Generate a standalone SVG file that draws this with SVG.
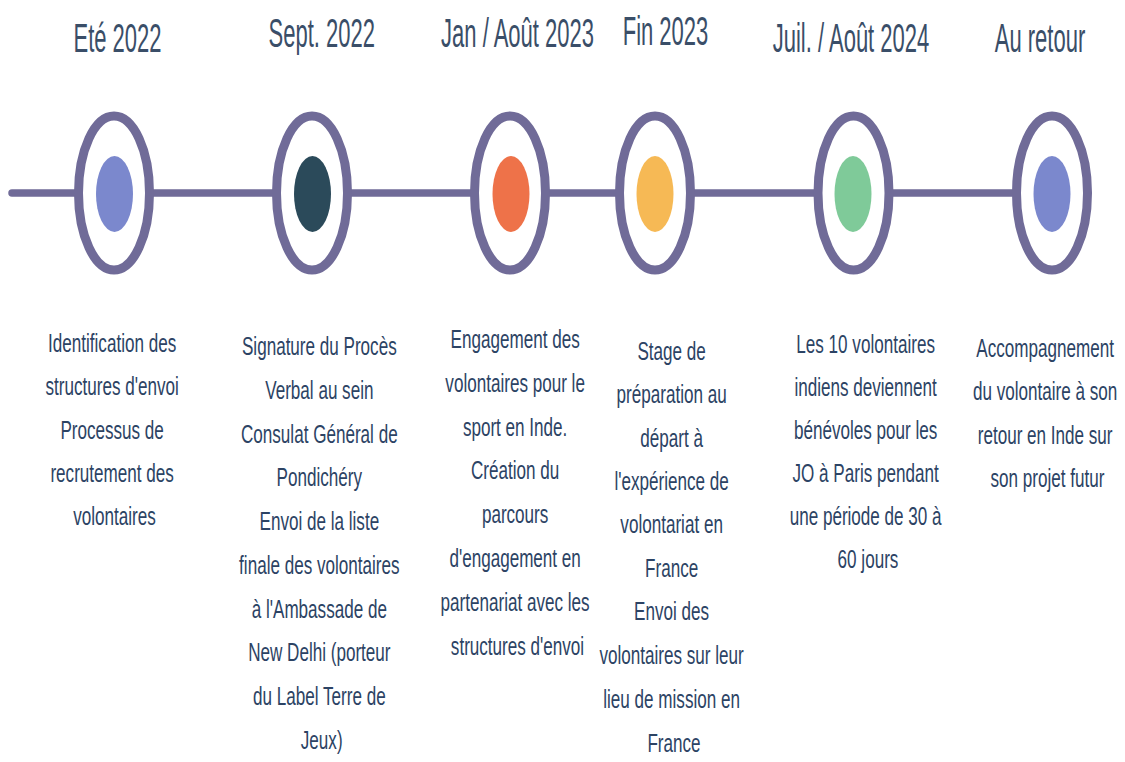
<svg xmlns="http://www.w3.org/2000/svg" width="1125" height="762" viewBox="0 0 1125 762">
<style>
.ring{fill:#ffffff;stroke:#706b98;stroke-width:9}
.title{font-family:"Liberation Sans",Arial,sans-serif;font-size:40px;fill:#3a4e68;text-anchor:middle}
.body{font-family:"Liberation Sans",Arial,sans-serif;font-size:26.5px;fill:#2c4364;text-anchor:middle}
</style>
<rect width="1125" height="762" fill="#ffffff"/>
<g id="connectors">
<line x1="12" y1="193" x2="1012" y2="193" stroke="#706b98" stroke-width="7.5" stroke-linecap="round"/>
</g>
<g id="node1">
<text class="title" transform="translate(117.5,52) scale(0.55,1)">Eté 2022</text>
<ellipse class="ring" cx="114" cy="193" rx="35.5" ry="77"/>
<ellipse cx="114.5" cy="194" rx="18.5" ry="38" fill="#7b88cd"/>
<text class="body" transform="translate(114.5,0) scale(0.645,1)">
<tspan x="0" y="352">Identification des</tspan>
<tspan x="0" y="395.5">structures d'envoi</tspan>
<tspan x="0" y="439">Processus de</tspan>
<tspan x="0" y="482">recrutement des</tspan>
<tspan x="0" y="525">volontaires</tspan>
</text>
</g>
<g id="node2">
<text class="title" transform="translate(321.7,47) scale(0.55,1)">Sept. 2022</text>
<ellipse class="ring" cx="312" cy="193" rx="35.5" ry="77"/>
<ellipse cx="312.5" cy="194" rx="18.5" ry="38" fill="#2b4a5a"/>
<text class="body" transform="translate(321.7,0) scale(0.645,1)">
<tspan x="0" y="355">Signature du Procès</tspan>
<tspan x="0" y="399">Verbal au sein</tspan>
<tspan x="0" y="443">Consulat Général de</tspan>
<tspan x="0" y="486.5">Pondichéry</tspan>
<tspan x="0" y="530">Envoi de la liste</tspan>
<tspan x="0" y="574">finale des volontaires</tspan>
<tspan x="0" y="618">à l'Ambassade de</tspan>
<tspan x="0" y="661.5">New Delhi (porteur</tspan>
<tspan x="0" y="705">du Label Terre de</tspan>
<tspan x="0" y="749">Jeux)</tspan>
</text>
</g>
<g id="node3">
<text class="title" transform="translate(517.5,47) scale(0.55,1)">Jan / Août 2023</text>
<ellipse class="ring" cx="510" cy="193" rx="35.5" ry="77"/>
<ellipse cx="511" cy="194" rx="18.5" ry="38" fill="#ee7249"/>
<text class="body" transform="translate(517.5,0) scale(0.645,1)">
<tspan x="0" y="348">Engagement des</tspan>
<tspan x="0" y="392">volontaires pour le</tspan>
<tspan x="0" y="436">sport en Inde.</tspan>
<tspan x="0" y="479.5">Création du</tspan>
<tspan x="0" y="523">parcours</tspan>
<tspan x="0" y="567">d'engagement en</tspan>
<tspan x="0" y="611">partenariat avec les</tspan>
<tspan x="0" y="655">structures d'envoi</tspan>
</text>
</g>
<g id="node4">
<text class="title" transform="translate(665.5,45) scale(0.55,1)">Fin 2023</text>
<ellipse class="ring" cx="655" cy="193" rx="35.5" ry="77"/>
<ellipse cx="655" cy="194" rx="18.5" ry="38" fill="#f6b955"/>
<text class="body" transform="translate(674,0) scale(0.645,1)">
<tspan x="0" y="360">Stage de</tspan>
<tspan x="0" y="403.5">préparation au</tspan>
<tspan x="0" y="447">départ à</tspan>
<tspan x="0" y="490">l'expérience de</tspan>
<tspan x="0" y="533">volontariat en</tspan>
<tspan x="0" y="577">France</tspan>
<tspan x="0" y="620.5">Envoi des</tspan>
<tspan x="0" y="664">volontaires sur leur</tspan>
<tspan x="0" y="708">lieu de mission en</tspan>
<tspan x="0" y="752">France</tspan>
</text>
</g>
<g id="node5">
<text class="title" transform="translate(851,52) scale(0.55,1)">Juil. / Août 2024</text>
<ellipse class="ring" cx="853.5" cy="193" rx="35.5" ry="77"/>
<ellipse cx="853" cy="194" rx="18.5" ry="38" fill="#7fca99"/>
<text class="body" transform="translate(868,0) scale(0.645,1)">
<tspan x="0" y="353">Les 10 volontaires</tspan>
<tspan x="0" y="396">indiens deviennent</tspan>
<tspan x="0" y="439">bénévoles pour les</tspan>
<tspan x="0" y="482">JO à Paris pendant</tspan>
<tspan x="0" y="525">une période de 30 à</tspan>
<tspan x="0" y="568">60 jours</tspan>
</text>
</g>
<g id="node6">
<text class="title" transform="translate(1040,52) scale(0.55,1)">Au retour</text>
<ellipse class="ring" cx="1052" cy="193" rx="35.5" ry="77"/>
<ellipse cx="1052" cy="194" rx="18.5" ry="38" fill="#7b88cd"/>
<text class="body" transform="translate(1047.5,0) scale(0.645,1)">
<tspan x="0" y="357">Accompagnement</tspan>
<tspan x="0" y="400.5">du volontaire à son</tspan>
<tspan x="0" y="444">retour en Inde sur</tspan>
<tspan x="0" y="487">son projet futur</tspan>
</text>
</g>
</svg>
